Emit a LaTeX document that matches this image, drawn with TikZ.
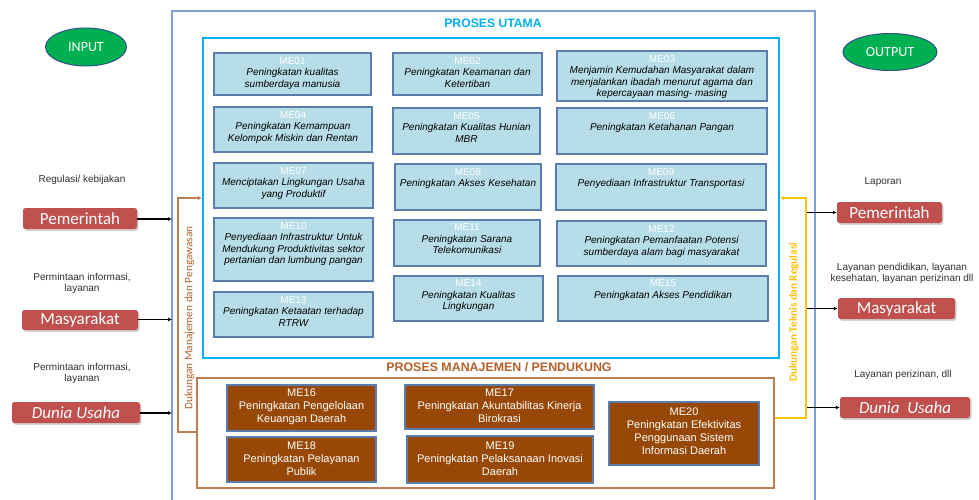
\documentclass[tikz,border=0pt]{standalone}
\usepackage{fontspec}
\setmainfont{Liberation Sans}
\newfontfamily\calfont{Carlito}
\usetikzlibrary{arrows.meta,shadows,shapes.geometric}
\definecolor{mebluefill}{HTML}{B7DDE8}
\definecolor{meblueborder}{HTML}{5A7DAE}
\definecolor{cyanbox}{HTML}{00B0F0}
\definecolor{outerblue}{HTML}{7EA1D6}
\definecolor{brownfill}{HTML}{974806}
\definecolor{browntitle}{HTML}{B4612A}
\definecolor{brownline}{HTML}{BF7D52}
\definecolor{yellowline}{HTML}{FFC000}
\definecolor{redboxc}{HTML}{C0504D}
\definecolor{greenell}{HTML}{00B050}
\definecolor{ellborder}{HTML}{2F4F8F}
\definecolor{labgray}{HTML}{303030}

\newcommand\mebox[9]{%
  \node[#6box, minimum width={(#4-#2)*1pt}, minimum height={(#5-#3)*1pt}] (#1) at ({(#2+#4)/2},{(#3+#5)/2}) {};
  \node[#6txt, anchor=north] (#1t) at ([yshift=-#7pt]#1.north) {{\color{white}\upshape #8}\\#9};
}

\begin{document}
\begin{tikzpicture}[x=1pt,y=-1pt,
  bluebox/.style={draw=meblueborder, line width=1.3pt, fill=mebluefill, inner sep=0pt},
  bluetxt/.style={inner sep=0pt, align=center, text=black, font=\fontsize{10}{11.5}\selectfont\itshape},
  brownbox/.style={draw=meblueborder, line width=1.1pt, fill=brownfill, inner sep=0pt},
  browntxt/.style={inner sep=0pt, align=center, text=white, font=\fontsize{11}{13}\selectfont},
  redbox/.style={fill=redboxc, rounded corners=2.5pt, inner sep=0pt, text=white,
     font=\calfont\fontsize{17}{18}\selectfont,
     drop shadow={shadow xshift=1.5pt, shadow yshift=-1.8pt, opacity=.35}},
  ell/.style={ellipse, fill=greenell, draw=ellborder, line width=1pt, inner sep=0pt, text=white,
     font=\calfont\fontsize{14}{15}\selectfont},
  lab/.style={inner sep=0pt, align=center, text=labgray, font=\fontsize{10}{11}\selectfont},
  blk/.style={black, line width=1.1pt, -{Latex[length=4pt,width=4pt]}},
  frame/.style={draw, inner sep=0pt, fill=none}
]
\clip (0,0) rectangle (979,500);
\fill[white] (0,0) rectangle (979,500);

% outer frame
\node[frame, draw=outerblue, line width=1.8pt, minimum width=643pt, minimum height=499pt] (outer) at (493.5,260.5) {};
\node[inner sep=0pt, text=cyanbox, font=\fontsize{12.2}{13}\selectfont\bfseries] (t1) at (493,23) {PROSES UTAMA};
\node[frame, draw=cyanbox, line width=1.8pt, minimum width=576pt, minimum height=320pt] (utama) at (491,198) {};
\node[inner sep=0pt, text=browntitle, font=\fontsize{12.4}{13}\selectfont\bfseries] (t2) at (499,367) {PROSES MANAJEMEN / PENDUKUNG};
\node[frame, draw=brownline, line width=1.3pt, minimum width=577pt, minimum height=110pt] (mgmt) at (485.5,433) {};

% main process boxes
\mebox{me01}{214}{53}{371}{95}{blue}{4.5}{ME01}{Peningkatan kualitas\\sumberdaya manusia}
\mebox{me02}{393}{53}{542}{95}{blue}{4.5}{ME02}{Peningkatan Keamanan dan\\Ketertiban}
\mebox{me03}{557}{51}{767}{101}{blue}{4.5}{ME03}{Menjamin Kemudahan Masyarakat dalam\\menjalankan ibadah menurut agama dan\\kepercayaan masing- masing}
\mebox{me04}{214}{107}{372}{152}{blue}{4.5}{ME04}{Peningkatan Kemampuan\\Kelompok Miskin dan Rentan}
\mebox{me05}{393}{108}{540}{154}{blue}{4.5}{ME05}{Peningkatan Kualitas Hunian\\MBR}
\mebox{me06}{557}{108}{767}{154}{blue}{4.5}{ME06}{Peningkatan Ketahanan Pangan}
\mebox{me07}{214}{163}{373}{208}{blue}{4.5}{ME07}{Menciptakan Lingkungan Usaha\\yang Produktif}
\mebox{me08}{395}{164}{541}{210}{blue}{4.5}{ME08}{Peningkatan Akses Kesehatan}
\mebox{me09}{556}{164}{766}{210}{blue}{4.5}{ME09}{Penyediaan Infrastruktur Transportasi}
\mebox{me10}{214}{218}{373}{281}{blue}{4.5}{ME10}{Penyediaan Infrastruktur Untuk\\Mendukung Produktivitas sektor\\pertanian dan lumbung pangan}
\mebox{me11}{394}{220}{540}{266}{blue}{4.5}{ME11}{Peningkatan Sarana\\Telekomunikasi}
\mebox{me12}{557}{221}{766}{266}{blue}{4.5}{ME12}{Peningkatan Pemanfaatan Potensi\\sumberdaya alam bagi masyarakat}
\mebox{me13}{214}{292}{373}{337}{blue}{4.5}{ME13}{Peningkatan Ketaatan terhadap\\RTRW}
\mebox{me14}{394}{276}{543}{321}{blue}{4.5}{ME14}{Peningkatan Kualitas\\Lingkungan}
\mebox{me15}{558}{276}{768}{321}{blue}{4.5}{ME15}{Peningkatan Akses Pendidikan}

% management boxes
\mebox{me16}{227}{385}{376}{431}{brown}{4}{ME16}{Peningkatan Pengelolaan\\Keuangan Daerah}
\mebox{me17}{405}{385}{594}{429}{brown}{4}{ME17}{Peningkatan Akuntabilitas Kinerja\\Birokrasi}
\mebox{me18}{227}{437}{376}{482}{brown}{5}{ME18}{Peningkatan Pelayanan\\Publik}
\mebox{me19}{407}{436}{593}{483}{brown}{6}{ME19}{Peningkatan Pelaksanaan Inovasi\\Daerah}
\mebox{me20}{609}{402}{759}{465}{brown}{6}{ME20}{Peningkatan Efektivitas\\Penggunaan Sistem\\Informasi Daerah}

% INPUT / OUTPUT
\node[ell, minimum width=81pt, minimum height=38pt] (input) at (86,47) {INPUT};
\node[ell, minimum width=94pt, minimum height=37pt] (output) at (890,52) {OUTPUT};

% left side actors
\node[lab] (lq1) at (82,180) {Regulasi/ kebijakan};
\node[redbox, minimum width=114pt, minimum height=21pt] (lpem) at (80,218.5) {Pemerintah};
\node[lab] (lq2) at (82,283) {Permintaan informasi,\\layanan};
\node[redbox, minimum width=116pt, minimum height=20pt] (lmas) at (80,320) {Masyarakat};
\node[lab] (lq3) at (82,373.5) {Permintaan informasi,\\layanan};
\node[redbox, minimum width=128pt, minimum height=21pt, font=\calfont\itshape\fontsize{17}{18}\selectfont] (ldun) at (76,412.5) {Dunia Usaha};

\coordinate (inA) at (172,219);
\coordinate (inB) at (172,319.5);
\coordinate (inC) at (172,413);
\draw[blk] (lpem.east |- inA) -- (inA);
\draw[blk] (lmas.east |- inB) -- (inB);
\draw[blk] (ldun.east |- inC) -- (inC);

% right side actors
\node[lab] (rq1) at (883,182) {Laporan};
\node[redbox, minimum width=105pt, minimum height=21pt] (rpem) at (889.5,212.5) {Pemerintah};
\node[lab] (rq2) at (902,273) {Layanan pendidikan, layanan\\kesehatan, layanan perizinan dll};
\node[redbox, minimum width=117pt, minimum height=21pt] (rmas) at (896.5,308.5) {Masyarakat};
\node[lab] (rq3) at (903,375) {Layanan perizinan, dll};
\node[redbox, minimum width=130pt, minimum height=21pt, font=\calfont\itshape\fontsize{17}{18}\selectfont] (rdun) at (905,407.5) {Dunia\ \ Usaha};

\coordinate (outA) at (806,212.5);
\coordinate (outB) at (806,308.5);
\coordinate (outC) at (806,407.5);
\draw[blk] (outA) -- (rpem.west |- outA);
\draw[blk] (outB) -- (rmas.west |- outB);
\draw[blk] (outC) -- (rdun.west |- outC);

% management support connector (left)
\coordinate (bl1) at (178,432);
\coordinate (bl2) at (178,198);
\draw[brownline, line width=1.5pt, -{Latex[length=4pt,width=4pt]}] (mgmt.west |- bl1) -- (bl1) -- (bl2) -- (utama.west |- bl2);
\node[rotate=90, inner sep=0pt, text=browntitle, font=\calfont\fontsize{11.3}{12}\selectfont] (dml) at (189.5,318) {Dukungan Manajemen dan Pengawasan};

% technical support connector (right)
\coordinate (yl1) at (806,418);
\coordinate (yl2) at (806,198);
\draw[yellowline, line width=1.8pt, -{Latex[length=4pt,width=4pt]}] (mgmt.east |- yl1) -- (yl1) -- (yl2) -- (utama.east |- yl2);
\node[rotate=90, inner sep=0pt, text=yellowline, font=\calfont\bfseries\fontsize{11.1}{12}\selectfont] (dtr) at (794,312) {Dukungan Teknis dan Regulasi};
\end{tikzpicture}
\end{document}
